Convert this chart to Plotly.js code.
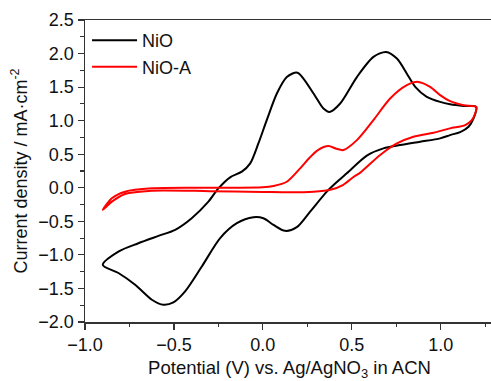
<!DOCTYPE html>
<html><head><meta charset="utf-8">
<script src="https://cdn.plot.ly/plotly-3.0.1.min.js"></script>
<style>html,body{margin:0;padding:0;overflow:hidden;background:#fff}#plot{width:500px;height:381px}</style>
</head><body><div id="plot"></div>
<script>
// NiO: anodic sweep (upper branch) then cathodic sweep (lower branch)
const nioX = [-0.900,-0.812,-0.700,-0.587,-0.493,-0.400,-0.306,-0.250,-0.184,-0.118,-0.071,-0.025,0.022,0.079,0.135,0.195,0.285,0.341,0.375,0.435,0.529,0.622,0.693,0.754,0.810,0.857,0.922,0.997,1.053,1.130,1.200,
  1.185,1.157,1.110,1.053,0.997,0.885,0.772,0.678,0.585,0.472,0.410,0.360,0.266,0.191,0.125,0.060,0.003,-0.053,-0.146,-0.240,-0.343,-0.437,-0.503,-0.559,-0.624,-0.718,-0.812,-0.900];
const nioY = [-1.148,-0.950,-0.826,-0.717,-0.627,-0.454,-0.207,-0.010,0.156,0.240,0.364,0.660,1.008,1.405,1.650,1.715,1.405,1.180,1.130,1.256,1.650,1.950,2.024,1.925,1.700,1.503,1.355,1.280,1.246,1.220,1.206,
  1.033,0.909,0.830,0.785,0.736,0.686,0.636,0.587,0.480,0.215,0.070,-0.058,-0.355,-0.587,-0.642,-0.553,-0.454,-0.439,-0.528,-0.750,-1.173,-1.544,-1.708,-1.742,-1.668,-1.445,-1.270,-1.148];
// NiO-A
const nioAX = [-0.900,-0.849,-0.775,-0.624,-0.300,0.000,0.060,0.135,0.210,0.260,0.310,0.369,0.410,0.453,0.529,0.622,0.716,0.810,0.875,0.941,0.997,1.053,1.130,1.200,
  1.194,1.175,1.138,1.053,0.960,0.847,0.754,0.660,0.550,0.510,0.450,0.380,0.285,0.150,0.000,-0.300,-0.624,-0.775,-0.849,-0.900];
const nioAY = [-0.330,-0.157,-0.058,-0.008,0.000,0.007,0.027,0.090,0.290,0.440,0.562,0.621,0.585,0.562,0.710,1.008,1.330,1.528,1.578,1.503,1.380,1.290,1.230,1.206,
  1.107,1.008,0.934,0.885,0.820,0.760,0.660,0.488,0.230,0.160,0.040,-0.030,-0.058,-0.068,-0.062,-0.050,-0.043,-0.092,-0.207,-0.330];
const seriesNames = ["NiO","NiO-A"];
const xTitle = "Potential (V) vs. Ag/AgNO<sub>3</sub> in ACN";
const yTitle = "Current density / mA·cm<sup>-2</sup>";

const font = "Liberation Sans, Arial, sans-serif";
const traces = [
  {x:nioX,y:nioY,name:seriesNames[0],mode:"lines",line:{color:"#000000",width:2,shape:"spline",smoothing:0.8}},
  {x:nioAX,y:nioAY,name:seriesNames[1],mode:"lines",line:{color:"#ff0000",width:2,shape:"spline",smoothing:0.8}}
];
const axisCommon = {showgrid:false,zeroline:false,showline:true,linecolor:"#333",linewidth:1.5,mirror:true,
  ticks:"outside",ticklen:6,tickwidth:1.2,tickcolor:"#333",tickfont:{family:font,size:18,color:"#111"}};
const layout = {
  width:500,height:381,margin:{l:85,r:6,t:20,b:59},
  paper_bgcolor:"#fff",plot_bgcolor:"#fff",font:{family:font,color:"#111"},
  xaxis:Object.assign({},axisCommon,{range:[-1,1.3],dtick:0.5,tick0:-1,tickformat:".1f",
    minor:{ticks:"outside",ticklen:3.5,dtick:0.25,tickcolor:"#333",tickwidth:1.2},
    title:{text:xTitle,font:{family:font,size:18.5,color:"#111"},standoff:8}}),
  yaxis:Object.assign({},axisCommon,{range:[-2,2.5],dtick:0.5,tick0:-2,tickformat:".1f",
    minor:{ticks:"outside",ticklen:3.5,dtick:0.25,tickcolor:"#333",tickwidth:1.2},
    title:{text:yTitle,font:{family:font,size:18,color:"#111"},standoff:6}}),
  legend:{x:0.005,y:0.993,xanchor:"left",yanchor:"top",bgcolor:"rgba(0,0,0,0)",font:{family:font,size:18,color:"#111"},tracegroupgap:0,itemwidth:45},
  showlegend:true
};
Plotly.newPlot("plot",traces,layout,{staticPlot:true});
</script></body></html>
